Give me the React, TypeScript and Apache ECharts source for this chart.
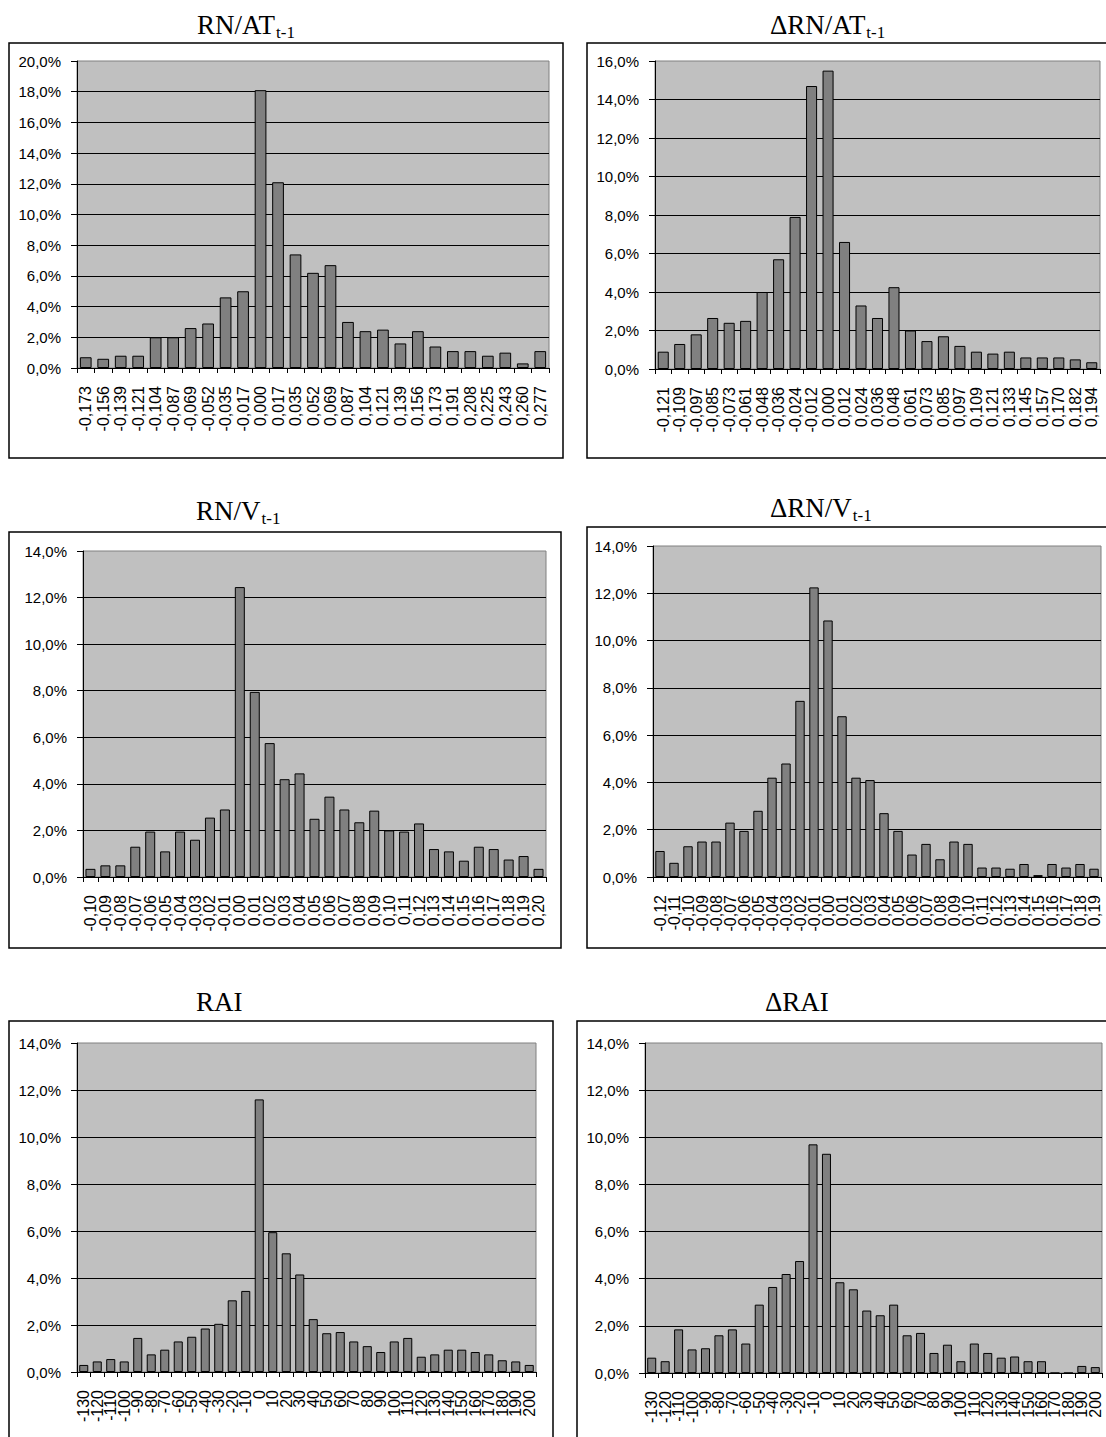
import React, { useEffect, useRef } from "react";
import * as echarts from "echarts";

// ---------- DATA ----------
const catsRNAT = ["-0,173","-0,156","-0,139","-0,121","-0,104","-0,087","-0,069","-0,052","-0,035","-0,017","0,000","0,017","0,035","0,052","0,069","0,087","0,104","0,121","0,139","0,156","0,173","0,191","0,208","0,225","0,243","0,260","0,277"];
const valsRNAT = [0.7,0.6,0.8,0.8,2.0,2.0,2.6,2.9,4.6,5.0,18.1,12.1,7.4,6.2,6.7,3.0,2.4,2.5,1.6,2.4,1.4,1.1,1.1,0.8,1.0,0.3,1.1];

const catsDRNAT = ["-0,121","-0,109","-0,097","-0,085","-0,073","-0,061","-0,048","-0,036","-0,024","-0,012","0,000","0,012","0,024","0,036","0,048","0,061","0,073","0,085","0,097","0,109","0,121","0,133","0,145","0,157","0,170","0,182","0,194"];
const valsDRNAT = [0.9,1.3,1.8,2.65,2.4,2.5,4.0,5.7,7.9,14.7,15.5,6.6,3.3,2.65,4.25,2.0,1.45,1.7,1.2,0.9,0.8,0.9,0.6,0.6,0.6,0.5,0.35];

const catsRNV = ["-0,10","-0,09","-0,08","-0,07","-0,06","-0,05","-0,04","-0,03","-0,02","-0,01","0,00","0,01","0,02","0,03","0,04","0,05","0,06","0,07","0,08","0,09","0,10","0,11","0,12","0,13","0,14","0,15","0,16","0,17","0,18","0,19","0,20"];
const valsRNV = [0.35,0.5,0.5,1.3,1.95,1.1,1.95,1.6,2.55,2.9,12.45,7.95,5.75,4.2,4.45,2.5,3.45,2.9,2.35,2.85,2.0,1.95,2.3,1.2,1.1,0.7,1.3,1.2,0.75,0.9,0.35];

const catsDRNV = ["-0,12","-0,11","-0,10","-0,09","-0,08","-0,07","-0,06","-0,05","-0,04","-0,03","-0,02","-0,01","0,00","0,01","0,02","0,03","0,04","0,05","0,06","0,07","0,08","0,09","0,10","0,11","0,12","0,13","0,14","0,15","0,16","0,17","0,18","0,19"];
const valsDRNV = [1.1,0.6,1.3,1.5,1.5,2.3,1.95,2.8,4.2,4.8,7.45,12.25,10.85,6.8,4.2,4.1,2.7,1.95,0.95,1.4,0.75,1.5,1.4,0.4,0.4,0.35,0.55,0.08,0.55,0.4,0.55,0.35];

const catsRAI = ["-130","-120","-110","-100","-90","-80","-70","-60","-50","-40","-30","-20","-10","0","10","20","30","40","50","60","70","80","90","100","110","120","130","140","150","160","170","180","190","200"];
const valsRAI = [0.3,0.45,0.55,0.45,1.45,0.75,0.95,1.3,1.5,1.85,2.05,3.05,3.45,11.6,5.95,5.05,4.15,2.25,1.65,1.7,1.3,1.1,0.85,1.3,1.45,0.65,0.75,0.95,0.95,0.85,0.75,0.5,0.45,0.3];

const catsDRAI = catsRAI;
const valsDRAI = [0.65,0.5,1.85,1.0,1.05,1.6,1.85,1.25,2.9,3.65,4.2,4.75,9.7,9.3,3.85,3.55,2.65,2.45,2.9,1.6,1.7,0.85,1.2,0.5,1.25,0.85,0.65,0.7,0.5,0.5,0,0,0.3,0.25];

const titles = ["RN/AT", "\u0394RN/AT", "RN/V", "\u0394RN/V", "RAI", "\u0394RAI"];
const subs = ["t-1", "t-1", "t-1", "t-1", "", ""];
const yMax = [20, 16, 14, 14, 14, 14];
const allCats = [catsRNAT, catsDRNAT, catsRNV, catsDRNV, catsRAI, catsDRAI];
const allVals = [valsRNAT, valsDRNAT, valsRNV, valsDRNV, valsRAI, valsDRAI];

// ---------- LAYOUT ----------
const layout = [
  { tx: 197, tb: 34, frame: [9, 43, 554, 415], grid: [77, 61, 472, 307] },
  { tx: 770, tb: 34, frame: [587, 43, 530, 415], grid: [655, 61, 445, 308] },
  { tx: 196, tb: 520, frame: [9, 532, 552, 416], grid: [83, 551, 463, 326] },
  { tx: 770, tb: 517, frame: [587, 527, 530, 421], grid: [653, 546, 448, 331] },
  { tx: 196, tb: 1011, frame: [9, 1021, 544, 430], grid: [77, 1043, 459, 329] },
  { tx: 765, tb: 1011, frame: [577, 1021, 540, 430], grid: [645, 1043, 457, 330] },
];

const SANS = "Liberation Sans";
const SERIF = "Liberation Serif";
const TITLE_SIZE = 27;
const SUB_SIZE = 17;

function measure(text: string, font: string): number {
  const c = document.createElement("canvas").getContext("2d");
  if (!c) return text.length * 12;
  c.font = font;
  return c.measureText(text).width;
}

export default function App() {
  const ref = useRef<HTMLDivElement>(null);
  useEffect(() => {
    if (!ref.current) return;
    const chart = echarts.init(ref.current, undefined, { renderer: "svg" });
    const graphics: any[] = [];
    layout.forEach((l, i) => {
      graphics.push({
        type: "rect",
        z: 0,
        shape: { x: l.frame[0], y: l.frame[1], width: l.frame[2], height: l.frame[3] },
        style: { fill: "none", stroke: "#000", lineWidth: 1.5 },
        silent: true,
      });
      graphics.push({
        type: "text",
        x: l.tx,
        y: l.tb - 0.3375 * TITLE_SIZE,
        style: {
          text: titles[i],
          fontFamily: SERIF,
          fontSize: TITLE_SIZE,
          fill: "#000",
          align: "left",
          verticalAlign: "middle",
        },
      });
      if (subs[i]) {
        const w = measure(titles[i], `${TITLE_SIZE}px "${SERIF}"`);
        graphics.push({
          type: "text",
          x: l.tx + w + 1,
          y: l.tb + 4 - 0.3375 * SUB_SIZE,
          style: {
            text: subs[i],
            fontFamily: SERIF,
            fontSize: SUB_SIZE,
            fill: "#000",
            align: "left",
            verticalAlign: "middle",
          },
        });
      }
    });

    const option: any = {
      animation: false,
      backgroundColor: "#fff",
      graphic: graphics,
      grid: layout.map((l) => ({
        left: l.grid[0],
        top: l.grid[1],
        width: l.grid[2],
        height: l.grid[3],
        show: true,
        backgroundColor: "#C0C0C0",
        borderColor: "#808080",
        borderWidth: 1,
        containLabel: false,
      })),
      xAxis: allCats.map((cats, i) => ({
        type: "category",
        gridIndex: i,
        data: cats,
        boundaryGap: true,
        axisLine: { show: true, lineStyle: { color: "#000", width: 1 } },
        axisTick: { show: true, length: 5, lineStyle: { color: "#000" } },
        axisLabel: {
          rotate: 90,
          interval: 0,
          margin: 18,
          fontFamily: SANS,
          fontSize: 16,
          color: "#000",
        },
        splitLine: { show: false },
      })),
      yAxis: yMax.map((mx, i) => ({
        type: "value",
        gridIndex: i,
        min: 0,
        max: mx,
        interval: 2,
        axisLine: { show: true, lineStyle: { color: "#000", width: 1 } },
        axisTick: { show: true, length: 6, lineStyle: { color: "#000" } },
        axisLabel: {
          margin: 16,
          fontFamily: SANS,
          fontSize: 15,
          color: "#000",
          formatter: (v: number) => v.toFixed(1).replace(".", ",") + "%",
        },
        splitLine: {
          show: true,
          showMaxLine: false,
          lineStyle: { color: "#000", width: 1 },
        },
      })),
      series: allVals.map((vals, i) => ({
        type: "bar",
        xAxisIndex: i,
        yAxisIndex: i,
        data: vals,
        barCategoryGap: "33%",
        itemStyle: { color: "#808080", borderColor: "#000", borderWidth: 1 },
        emphasis: { disabled: true },
      })),
    };
    chart.setOption(option);
    return () => chart.dispose();
  }, []);
  return (
    <div
      ref={ref}
      style={{ position: "absolute", left: 0, top: 0, width: 1106, height: 1437, background: "#fff" }}
    />
  );
}
